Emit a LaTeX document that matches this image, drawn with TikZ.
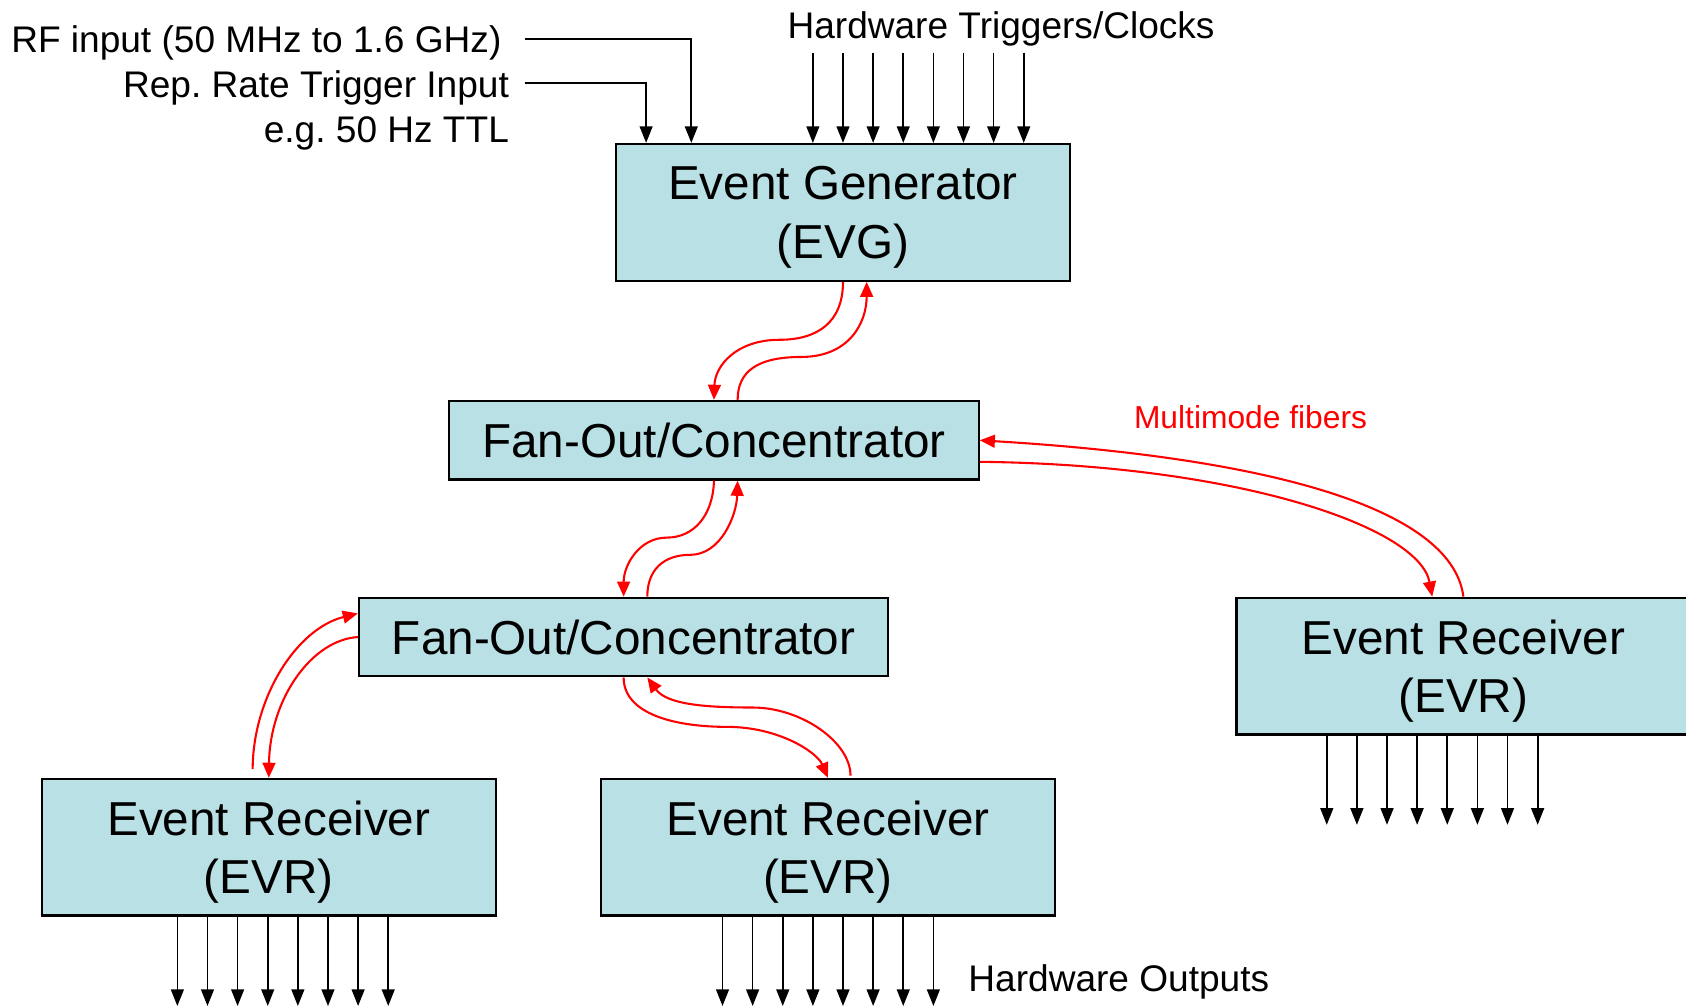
\documentclass[tikz,border=0pt]{standalone}
\usepackage{fontspec}
\setmainfont{Liberation Sans}
\usepackage{xcolor}
\usetikzlibrary{arrows.meta}
\definecolor{boxcyan}{RGB}{185,224,228}
\frenchspacing
\tikzset{
	base/.style={draw,line width=0.6pt,fill=boxcyan,align=center,inner sep=0pt,font=\fontsize{12.6}{15.4}\selectfont},
	unit/.style={base,minimum width=4.22cm,minimum height=1.27cm,text depth=0pt},
	fanbox/.style={base,minimum width=4.92cm,minimum height=0.73cm},
	lbl/.style={inner sep=0pt,font=\fontsize{9.8}{11.7}\selectfont},
	sig/.style={line width=0.45pt,-{Triangle[length=4.4pt,width=3.4pt]}},
	fiber/.style={red,line width=0.55pt,-{Triangle[length=4pt,width=3.4pt]}}
}
\begin{document}
\begin{tikzpicture}[x=0.01cm,y=-0.01cm]
		\useasboundingbox(0,0)rectangle(1568,937);
		\node[unit](evg)at(784,197.5){Event Generator\\(EVG)};
		\node[fanbox](fanA)at(664,409.5){Fan-Out/Concentrator};
		\node[fanbox](fanB)at(580,592.5){Fan-Out/Concentrator};
		\node[unit](evrA)at(250,788){Event Receiver\\(EVR)};
		\node[unit](evrB)at(770,788){Event Receiver\\(EVR)};
		\node[unit](evrC)at(1361,619.5){Event Receiver\\(EVR)};
		\node[lbl,anchor=east](rf)at(467,40){RF input (50 MHz to 1.6 GHz)};
		\node[lbl,anchor=east](rep)at(474,82){Rep. Rate Trigger Input};
		\node[lbl,anchor=east](ttl)at(474,124){e.g. 50 Hz TTL};
		\node[lbl](trig)at(931,27){Hardware Triggers/Clocks};
		\node[lbl,anchor=west](outs)at(900,913){Hardware Outputs};
		\node[lbl,red,font=\fontsize{8.4}{10}\selectfont](mm)at(1163,388){Multimode fibers};
		\draw[sig]([xshift=0.21cm,yshift=0.04cm]rf.east)-|([xshift=-1.41cm]evg.north);
		\draw[sig]([xshift=0.14cm,yshift=0.05cm]rep.east)-|([xshift=-1.83cm]evg.north);
		\foreach \i in {0,...,7}{
			\draw[sig]([xshift=\i*0.28cm-0.28cm,yshift=0.84cm]evg.north)--([xshift=\i*0.28cm-0.28cm]evg.north);
			\draw[sig]([xshift=\i*0.28cm-0.85cm]evrA.south)--++(0,83);
			\draw[sig]([xshift=\i*0.28cm-0.98cm]evrB.south)--++(0,83);
			\draw[sig]([xshift=\i*0.28cm-1.27cm]evrC.south)--++(0,83);
		}
		\draw[fiber](evg.south)..controls(784,300)and(760,316)..(725,316)..controls(685,316)and(665,340)..(fanA.north);
		\draw[fiber]([xshift=0.22cm]fanA.north)..controls(686,345)and(705,332)..(745,332)..controls(790,332)and(806,300)..([xshift=0.22cm]evg.south);
		\draw[fiber](fanA.south)..controls(663,480)and(645,500)..(620,500)..controls(595,500)and(580,525)..(fanB.north);
		\draw[fiber]([xshift=0.22cm]fanB.north)..controls(602,530)and(617,516)..(642,516)..controls(670,516)and(685,480)..([xshift=0.22cm]fanA.south);
		\draw[fiber](fanB.south)..controls(580,665)and(630,676)..(676,676)..controls(725,676)and(760,700)..(evrB.north);
		\draw[fiber]([xshift=0.21cm,yshift=0.02cm]evrB.north)..controls(791,690)and(745,658)..(700,658)..controls(655,658)and(620,655)..([xshift=0.22cm]fanB.south);
		\draw[fiber]([xshift=-0.15cm,yshift=0.08cm]evrA.north)..controls(235,650)and(275,585)..([yshift=0.22cm]fanB.west);
		\draw[fiber](fanB.west)..controls(290,595)and(251,650)..(evrA.north);
		\draw[fiber](evrC.north)..controls(1350,470)and(1170,425)..(fanA.east);
		\draw[fiber]([yshift=-0.2cm]fanA.east)..controls(1150,432)and(1320,490)..([xshift=-0.29cm]evrC.north);
		\end{tikzpicture}
\end{document}
